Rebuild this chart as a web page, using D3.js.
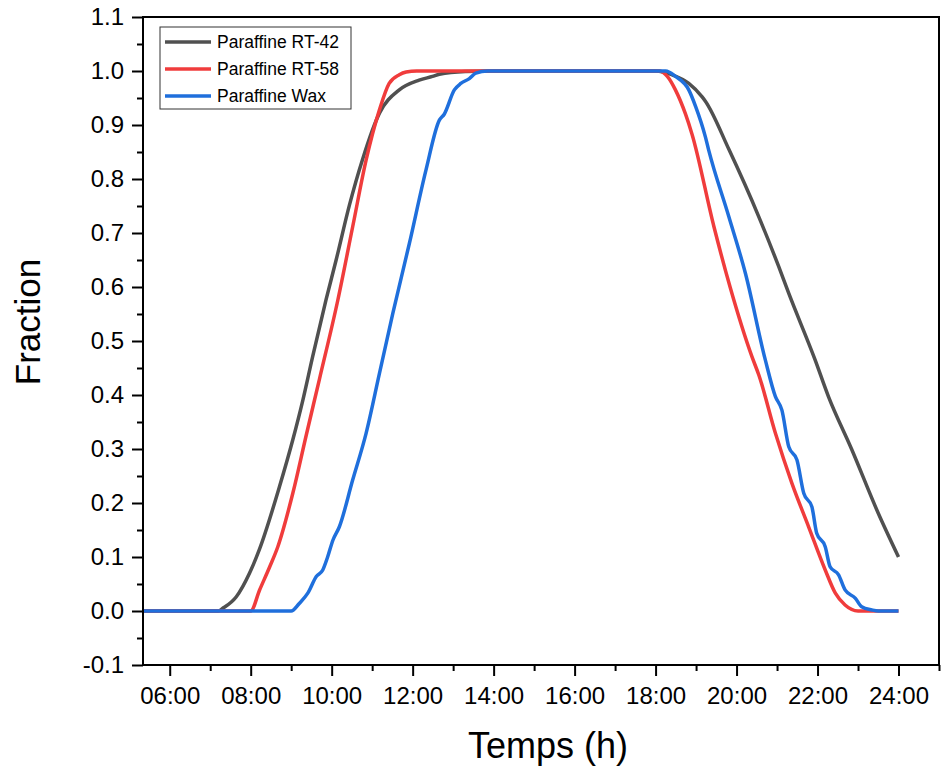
<!DOCTYPE html>
<html>
<head>
<meta charset="utf-8">
<script src="https://cdn.jsdelivr.net/npm/d3@7"></script>
<style>
  body { margin: 0; background: #fff; }
  text { font-family: "Liberation Sans", Arial, sans-serif; fill: #000; }
</style>
</head>
<body>
<div id="chart"></div>
<script>
// hours since midnight, fraction
const rt42Time = [5.34, 7.2, 7.31, 7.64, 7.97, 8.22, 8.71, 9.04, 9.29, 9.53, 9.86, 10.11, 10.44, 10.77, 11.18, 11.67, 12.16, 12.49, 12.66, 13.3, 14, 18.0, 18.41, 18.82, 19.15, 19.23, 19.81, 20.55, 21.04, 21.29, 21.94, 22.27, 22.84, 23.5, 24];
const rt42Frac = [0, 0, 0.005, 0.026, 0.07, 0.115, 0.23, 0.317, 0.391, 0.471, 0.576, 0.65, 0.752, 0.838, 0.922, 0.965, 0.983, 0.99, 0.994, 0.999, 1, 1, 0.993, 0.977, 0.952, 0.944, 0.855, 0.73, 0.638, 0.588, 0.465, 0.397, 0.3, 0.181, 0.1];

const rt58Time = [5.34, 8.0, 8.22, 8.47, 8.67, 9.04, 9.37, 9.70, 10.15, 10.52, 10.85, 11.18, 11.42, 11.67, 11.84, 12.1, 18.1, 18.29, 18.49, 18.74, 18.9, 19.44, 19.84, 20.38, 20.55, 20.96, 21.37, 21.78, 22.19, 22.44, 22.68, 23.0, 24];
const rt58Frac = [0, 0, 0.039, 0.082, 0.119, 0.218, 0.325, 0.43, 0.575, 0.712, 0.835, 0.928, 0.977, 0.993, 0.998, 1, 1, 0.99, 0.965, 0.92, 0.883, 0.712, 0.6, 0.471, 0.437, 0.329, 0.236, 0.156, 0.076, 0.033, 0.011, 0, 0];

const waxTime = [5.34, 9.0, 9.2, 9.41, 9.62, 9.78, 9.9, 10.03, 10.19, 10.52, 10.85, 11.18, 11.51, 11.92, 12.33, 12.66, 12.78, 13.03, 13.19, 13.4, 13.56, 13.85, 18.25, 18.49, 18.82, 18.99, 19.23, 19.31, 19.81, 20.22, 20.71, 20.96, 21.12, 21.29, 21.49, 21.66, 21.86, 21.98, 22.19, 22.31, 22.52, 22.68, 22.93, 23.09, 23.34, 23.5, 24];
const waxFrac = [0, 0, 0.014, 0.033, 0.064, 0.076, 0.1, 0.131, 0.156, 0.243, 0.329, 0.44, 0.551, 0.681, 0.817, 0.909, 0.92, 0.965, 0.977, 0.986, 0.996, 1, 1, 0.99, 0.965, 0.934, 0.878, 0.854, 0.73, 0.625, 0.465, 0.397, 0.372, 0.304, 0.28, 0.218, 0.193, 0.144, 0.119, 0.082, 0.067, 0.039, 0.024, 0.008, 0.002, 0, 0];

const seriesNames = ["Paraffine RT-42", "Paraffine RT-58", "Paraffine Wax"];
const seriesColors = ["#505050", "#f03c3c", "#1f6fdc"];

const xTicks = [6, 8, 10, 12, 14, 16, 18, 20, 22, 24];
const xMinor = [7, 9, 11, 13, 15, 17, 19, 21, 23, 25];
const yTicks = [-0.1, 0, 0.1, 0.2, 0.3, 0.4, 0.5, 0.6, 0.7, 0.8, 0.9, 1.0, 1.1];
const yMinor = d3.range(-0.05, 1.1, 0.1);

const series = [
  rt42Time.map((t, i) => ({ t, v: rt42Frac[i] })),
  rt58Time.map((t, i) => ({ t, v: rt58Frac[i] })),
  waxTime.map((t, i) => ({ t, v: waxFrac[i] }))
];

const width = 944, height = 769;
const margin = { top: 17, right: 5, bottom: 104, left: 143 };
const plotW = width - margin.left - margin.right;
const plotH = height - margin.top - margin.bottom;

const xScale = d3.scaleLinear().domain([5.34, 25]).range([0, plotW]);
const yScale = d3.scaleLinear().domain([-0.1, 1.1]).range([plotH, 0]);

const svg = d3.select("#chart").append("svg")
  .attr("width", width).attr("height", height);

const g = svg.append("g")
  .attr("transform", `translate(${margin.left}, ${margin.top})`);

const fmtHour = (h) => String(h).padStart(2, "0") + ":00";

const xAxis = g.append("g")
  .attr("transform", `translate(0, ${plotH})`)
  .call(d3.axisBottom(xScale).tickValues(xTicks).tickFormat(fmtHour).tickSize(11).tickPadding(8));
g.append("g")
  .attr("transform", `translate(0, ${plotH})`)
  .call(d3.axisBottom(xScale).tickValues(xMinor).tickFormat("").tickSize(6))
  .call(a => a.select(".domain").remove());

const yAxis = g.append("g")
  .call(d3.axisLeft(yScale).tickValues(yTicks).tickFormat(d3.format(".1f")).tickSize(11).tickPadding(8));
g.append("g")
  .call(d3.axisLeft(yScale).tickValues(yMinor).tickFormat("").tickSize(6))
  .call(a => a.select(".domain").remove());

svg.selectAll(".tick line").attr("stroke", "#000").attr("stroke-width", 2);
svg.selectAll(".domain").remove();
svg.selectAll(".tick text").attr("font-size", 24).attr("font-family", "'Liberation Sans', Arial, sans-serif");
xAxis.selectAll(".tick text").attr("dy", "0.85em");
yAxis.selectAll(".tick text").text(d => d3.format(".1f")(d).replace("−", "-"));

const line = d3.line()
  .x(d => xScale(d.t))
  .y(d => yScale(d.v))
  .curve(d3.curveMonotoneX);

g.selectAll(".series").data(series).enter()
  .append("path")
  .attr("class", "series")
  .attr("fill", "none")
  .attr("stroke", (d, i) => seriesColors[i])
  .attr("stroke-width", 3.5)
  .attr("stroke-linejoin", "round")
  .attr("d", line);

// frame
g.append("rect")
  .attr("width", plotW).attr("height", plotH)
  .attr("fill", "none").attr("stroke", "#000").attr("stroke-width", 2);

// legend
const legend = g.append("g").attr("transform", "translate(17, 10)");
legend.append("rect")
  .attr("width", 191).attr("height", 82)
  .attr("fill", "#fff").attr("stroke", "#333").attr("stroke-width", 1);
seriesNames.forEach((name, i) => {
  const y = 15 + i * 27;
  legend.append("line")
    .attr("x1", 5).attr("x2", 51).attr("y1", y).attr("y2", y)
    .attr("stroke", seriesColors[i]).attr("stroke-width", 3.5);
  legend.append("text")
    .attr("x", 57).attr("y", y).attr("dy", "0.35em")
    .attr("font-size", 17.5).text(name);
});

svg.append("text")
  .attr("x", 548).attr("y", 758)
  .attr("text-anchor", "middle").attr("font-size", 36)
  .text("Temps (h)");
svg.append("text")
  .attr("transform", "translate(40, 322) rotate(-90)")
  .attr("text-anchor", "middle").attr("font-size", 35)
  .text("Fraction");
</script>
</body>
</html>
